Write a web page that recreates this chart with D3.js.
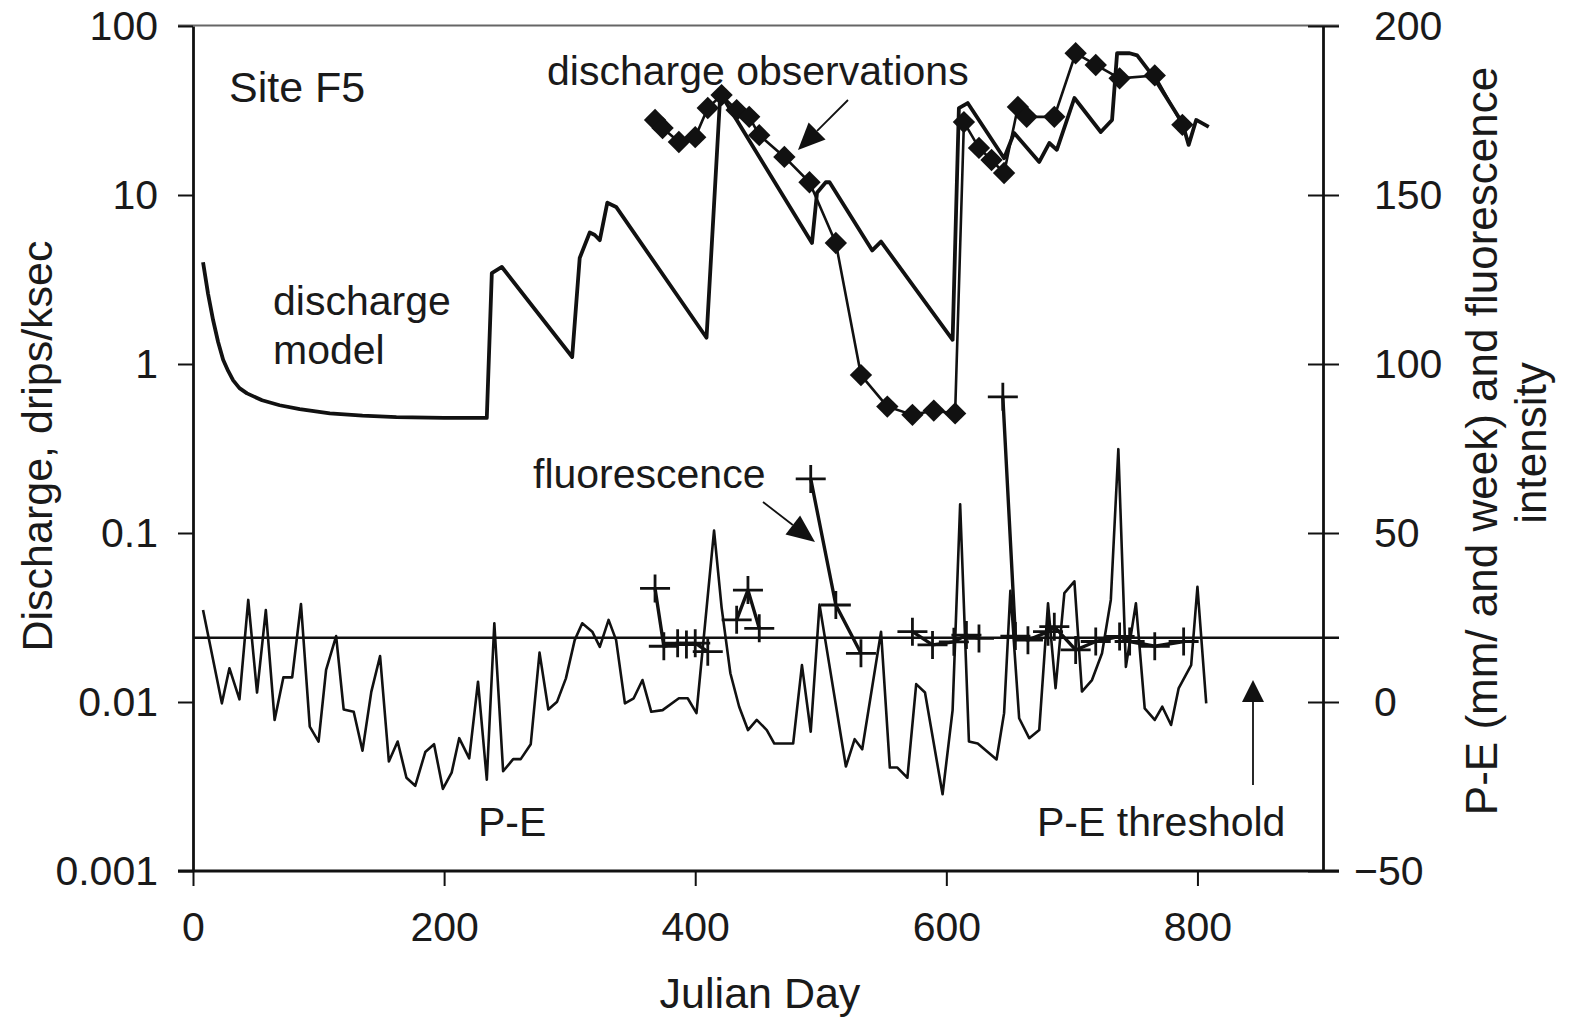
<!DOCTYPE html>
<html><head><meta charset="utf-8">
<script src="https://cdn.jsdelivr.net/npm/d3@7"></script>
<style>
html,body{margin:0;padding:0;background:#fff;}
svg text{font-family:"Liberation Sans",Arial,Helvetica,sans-serif;fill:#1a1a1a;}
</style></head><body>
<svg id="chart" width="1576" height="1017"></svg>
<script>
// ---------- data ----------
const modelDays = [8,12,16,20,24,28,32,37,43,55,69,85,109,135,162,200,234,238,246,302,308,316,320,324,330,337,409,420,493,497,504,507,541,548,605,610,617,646,654,674,682,688,702,723,732,736,746,752,765,788,793,799,809];
const modelQ = [4.0,2.6,1.82,1.35,1.06,0.91,0.80,0.72,0.67,0.61,0.57,0.54,0.51,0.495,0.485,0.48,0.48,3.45,3.75,1.1,4.24,6.0,5.8,5.4,9.0,8.5,1.43,40,5.2,10.3,11.9,11.9,4.7,5.3,1.39,32.7,35,16.5,23.3,15.7,20.3,18.5,37.5,23.6,27.8,69,69,67,50,26.7,19.8,27.8,25.3];

const obsDays = [368,374,387,400,410,421,433,443,451,471,491,512,532,553,573,590,607,614,626,636,646,657,664,686,703,719,738,766,788];
const obsQ = [27.8,24.9,20.6,22,32.7,39,31.8,29,22.6,16.8,11.9,5.2,0.86,0.56,0.50,0.53,0.51,27,19,16.1,13.5,33.2,29,29,69,58.8,49,51,26];

const peDays = [8,23,29,37,44,51,58,65,72,79,86,93,100,106,114,120,128,135,142,149,156,163,170,177,185,192,199,206,212,220,227,234,240,247,255,261,269,276,283,290,297,304,310,318,324,331,337,344,351,358,365,374,387,394,401,415,421,428,435,442,449,457,463,478,485,492,499,520,527,533,548,555,561,569,576,583,597,605,611,618,625,640,646,651,658,666,674,681,687,694,702,708,716,724,731,737,743,751,758,766,772,779,785,795,800,807];
const peVals = [27.2,-0.4,10,0.8,30.2,2.8,27.2,-5.3,7.3,7.3,29,-7.3,-11.7,9.5,19.5,-2.2,-2.9,-14.4,3,13.6,-17.6,-11.7,-22.4,-24.8,-14.8,-12.5,-25.7,-20.9,-10.7,-16.7,6,-23,23.3,-20.5,-16.9,-16.9,-12.5,14.6,-2.2,0.1,7,18.3,23.3,20.8,16.3,24.3,18.3,-0.4,1.1,6.5,-2.9,-2.4,1.1,1.1,-3.3,50.7,28,8.5,-1.4,-8.3,-5.3,-8.3,-12.3,-12.3,10.9,-8.8,28.8,-19.1,-11,-14,20.8,-19.4,-19.4,-22.4,5.3,2.8,-27.3,-2.4,58.5,-11.7,-12.3,-17,-3.3,32.9,-4.8,-10.7,-8.3,29.2,4.1,32.2,35.7,3.1,6.5,14.4,30.2,74.8,10.4,29.2,-1.9,-5.3,-1.4,-6.8,4,10.9,34.1,-0.4];

const fluorDays = [368,375,386,393,400,410,420,433,442,451,470,492,512,532,550,573,589,606,616,626,635,645,655,665,681,686,703,719,738,746,766,789];
const fluorVals = [33.6,16.5,17.4,17,17.4,14.9,null,24.3,33.1,21.8,null,66,28.7,14.4,null,20.8,16.9,17.8,19.8,18.8,null,90.3,19.5,18.3,20.8,22.3,15.4,17.9,19.4,17.9,16.5,17.9];

const peThreshold = 19;

const xTicks = [0,200,400,600,800];
const leftTicks = [100,10,1,0.1,0.01,0.001];
const leftTickLabels = ["100","10","1","0.1","0.01","0.001"];
const rightTicks = [200,150,100,50,0,-50];

// ---------- layout ----------
const svg = d3.select("#chart");
const L = 193, R = 1323, T = 26, B = 871;
const x = d3.scaleLinear().domain([0,900]).range([L,R]);
const yL = d3.scaleLog().domain([0.001,100]).range([B,T]);
const yR = d3.scaleLinear().domain([-50,200]).range([B,T]);

const ink = "#111";
const tickFont = 41, titleFont = 43, annFont = 41;

// top frame line
svg.append("line").attr("x1",178).attr("x2",1339).attr("y1",T-0.5).attr("y2",T-0.5)
  .attr("stroke","#666").attr("stroke-width",2.2);

// threshold line
svg.append("line").attr("x1",L).attr("x2",1339).attr("y1",yR(peThreshold)).attr("y2",yR(peThreshold))
  .attr("stroke",ink).attr("stroke-width",2.6);

// ---------- axes ----------
function styleAxis(g){
  g.selectAll(".domain").attr("stroke",ink).attr("stroke-width",2.8);
  g.selectAll(".tick line").attr("stroke",ink).attr("stroke-width",2);
  g.selectAll(".tick text").attr("font-size",tickFont).attr("fill","#1a1a1a")
    .attr("font-family","'Liberation Sans',Arial,sans-serif");
}

const gx = svg.append("g").attr("transform",`translate(0,${B})`)
  .call(d3.axisBottom(x).tickValues(xTicks).tickSize(15).tickSizeOuter(0).tickPadding(26).tickFormat(d3.format("d")));
styleAxis(gx);
gx.select(".domain").attr("d",`M178,0H1339`);

const gl = svg.append("g").attr("transform",`translate(${L},0)`)
  .call(d3.axisLeft(yL).tickValues(leftTicks).tickSize(15).tickSizeOuter(0).tickPadding(20)
    .tickFormat((d,i)=>leftTickLabels[i]));
styleAxis(gl);

const gr = svg.append("g").attr("transform",`translate(${R},0)`)
  .call(d3.axisRight(yR).tickValues(rightTicks).tickSize(16).tickSizeOuter(0).tickPadding(35)
    .tickFormat(d => d<0 ? "\u2212"+Math.abs(d) : String(d)));
styleAxis(gr);
gr.selectAll(".tick line").attr("x1",-15);
// negative label: digits aligned with others, minus hangs to the left
gr.selectAll(".tick text").each(function(d){
  if(d<0){
    const t = d3.select(this);
    const full = this.getComputedTextLength();
    t.text(String(Math.abs(d)));
    const digits = this.getComputedTextLength();
    t.text("\u2212"+Math.abs(d));
    t.attr("x", +t.attr("x") - (full-digits) + 4);
  }
});

// axis titles
svg.append("text").attr("transform",`translate(52,446) rotate(-90)`)
  .attr("text-anchor","middle").attr("font-size",titleFont).text("Discharge, drips/ksec");
svg.append("text").attr("transform",`translate(1497,441) rotate(-90)`)
  .attr("text-anchor","middle").attr("font-size",44).text("P-E (mm/ and week) and fluorescence");
svg.append("text").attr("transform",`translate(1546,443) rotate(-90)`)
  .attr("text-anchor","middle").attr("font-size",44).text("intensity");
svg.append("text").attr("x",(L+R)/2 + 2).attr("y",1008)
  .attr("text-anchor","middle").attr("font-size",titleFont).text("Julian Day");

// ---------- series ----------
const peLine = d3.line().x((d,i)=>x(peDays[i])).y((d,i)=>yR(peVals[i]));
svg.append("path").attr("d",peLine(peDays)).attr("fill","none")
  .attr("stroke",ink).attr("stroke-width",2.6).attr("stroke-linejoin","round");

const fLine = d3.line().defined((d,i)=>fluorVals[i]!==null)
  .x((d,i)=>x(fluorDays[i])).y((d,i)=>yR(fluorVals[i]));
svg.append("path").attr("d",fLine(fluorDays)).attr("fill","none")
  .attr("stroke",ink).attr("stroke-width",3.4).attr("stroke-linejoin","round");
const plusPts = fluorDays.map((d,i)=>({d, v:fluorVals[i]})).filter(p=>p.v!==null);
svg.append("g").selectAll("path").data(plusPts).join("path")
  .attr("transform",p=>`translate(${x(p.d)},${yR(p.v)})`)
  .attr("d","M-15,0H15M0,-14V14").attr("stroke",ink).attr("stroke-width",2.8).attr("fill","none");

const oLine = d3.line().x((d,i)=>x(obsDays[i])).y((d,i)=>yL(obsQ[i]));
svg.append("path").attr("d",oLine(obsDays)).attr("fill","none")
  .attr("stroke",ink).attr("stroke-width",2.6).attr("stroke-linejoin","round");

const mLine = d3.line().x((d,i)=>x(modelDays[i])).y((d,i)=>yL(modelQ[i]));
svg.append("path").attr("d",mLine(modelDays)).attr("fill","none")
  .attr("stroke",ink).attr("stroke-width",3.8).attr("stroke-linejoin","round");

const diamond = d3.symbol().type(d3.symbolSquare).size(250);
svg.append("g").selectAll("path").data(obsDays).join("path")
  .attr("transform",(d,i)=>`translate(${x(d)},${yL(obsQ[i])}) rotate(45)`)
  .attr("d",diamond).attr("fill",ink);

// ---------- annotations ----------
function label(txt,xp,yp,size){
  svg.append("text").attr("x",xp).attr("y",yp).attr("font-size",size||annFont).text(txt);
}
label("Site F5",229,102,43);
label("discharge observations",547,85);
label("discharge",273,315);
label("model",273,364);
label("fluorescence",533,488);
label("P-E",478,836);
label("P-E threshold",1037,836);

function arrow(x1,y1,x2,y2,hl,hw){
  const a = Math.atan2(y2-y1,x2-x1);
  const bx = x2 - hl*Math.cos(a), by = y2 - hl*Math.sin(a);
  svg.append("line").attr("x1",x1).attr("y1",y1).attr("x2",bx).attr("y2",by)
    .attr("stroke",ink).attr("stroke-width",1.8);
  const px = -Math.sin(a)*hw/2, py = Math.cos(a)*hw/2;
  svg.append("path").attr("d",`M${x2},${y2}L${bx+px},${by+py}L${bx-px},${by-py}Z`).attr("fill",ink);
}
arrow(848,100,798,150,27,24);
arrow(763,502,815,542,28,24);
arrow(1253,785,1253,680,22,22);
</script>
</body></html>
